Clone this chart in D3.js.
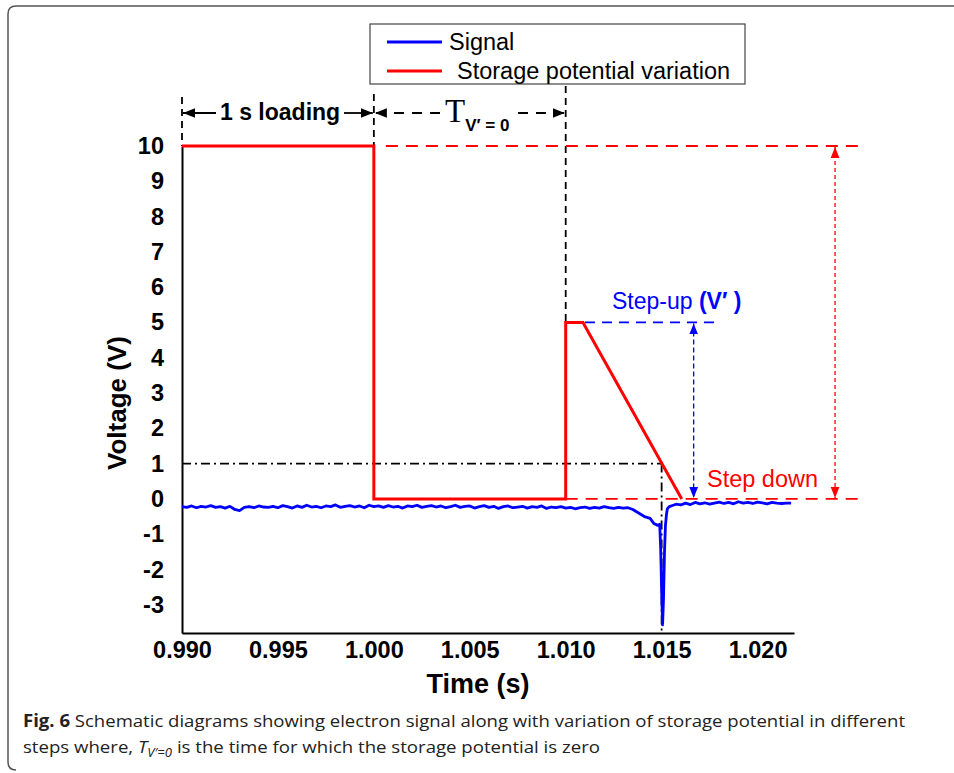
<!DOCTYPE html>
<html>
<head>
<meta charset="utf-8">
<title>Storage potential</title>
<style>
  html, body { margin: 0; padding: 0; background: #fff; }
  svg { display: block; }
  .tick text { font-family: "Liberation Sans", Arial, sans-serif; font-weight: bold; font-size: 23.5px; fill: #000; }
</style>
</head>
<body>
<svg id="svg" width="954" height="773"></svg>
<script src="https://d3js.org/d3.v7.min.js"></script>
<script>
// ---- data ----
const xTicks = [0.990, 0.995, 1.000, 1.005, 1.010, 1.015, 1.020]
const yTicks = [-3, -2, -1, 0, 1, 2, 3, 4, 5, 6, 7, 8, 9, 10]

// storage potential (red)
const storageT = [0.990, 1.000, 1.000, 1.010, 1.010, 1.0109, 1.01605]
const storageV = [10, 10, 0, 0, 5, 5, 0]

// electron signal (blue): baseline sampled every 0.25 ms from 0.990 s
const baseStart = 0.990
const baseStep = 0.00025
const signalBase = [
  -0.22, -0.24, -0.20, -0.25, -0.21, -0.23, -0.19, -0.24, -0.22, -0.26,
  -0.21, -0.30, -0.33, -0.24, -0.22, -0.25, -0.20, -0.23, -0.24, -0.21,
  -0.25, -0.19, -0.22, -0.26, -0.20, -0.24, -0.18, -0.23, -0.21, -0.25,
  -0.20, -0.22, -0.17, -0.24, -0.21, -0.19, -0.23, -0.20, -0.25, -0.18,
  -0.22, -0.20, -0.24, -0.19, -0.23, -0.21, -0.26, -0.20, -0.22, -0.18,
  -0.24, -0.21, -0.19, -0.23, -0.20, -0.25, -0.22, -0.18, -0.24, -0.21,
  -0.20, -0.26, -0.22, -0.19, -0.24, -0.21, -0.27, -0.22, -0.20, -0.25,
  -0.23, -0.21, -0.26, -0.22, -0.24, -0.20, -0.27, -0.23, -0.25, -0.22,
  -0.26, -0.24, -0.28, -0.25, -0.23, -0.27, -0.24, -0.26, -0.22, -0.25,
  -0.27, -0.24, -0.26, -0.25
]
// the dip around 1.015 s
const signalSpike = [
  [1.0135, -0.30], [1.0138, -0.40], [1.0141, -0.50], [1.0144, -0.55],
  [1.0146, -0.70], [1.0148, -0.75], [1.0149, -0.72], [1.01495, -1.4],
  [1.0150, -2.6], [1.01505, -3.57], [1.0151, -2.8], [1.01515, -1.5],
  [1.0152, -0.75], [1.01525, -0.45], [1.0153, -0.28], [1.0154, -0.22],
  [1.0156, -0.18]
]
// after the dip, every 0.25 ms from 1.01575 s
const tailStart = 1.01575
const signalTail = [
  -0.15, -0.17, -0.12, -0.16, -0.10, -0.14, -0.11, -0.15, -0.12, -0.09,
  -0.13, -0.10, -0.14, -0.08, -0.12, -0.10, -0.13, -0.09, -0.11, -0.14,
  -0.10, -0.12, -0.13, -0.12, -0.12
]

const loadEnd = 1.000
const zeroEnd = 1.010
const stepUpV = 5
const crossT = 1.015
const crossV = 1
const arrowUpT = 1.01667
const arrowBigT = 1.02404
const dashEndT = 1.02544

// ---- drawing ----
const svg = d3.select('#svg')
const font = '"Liberation Sans", Arial, sans-serif'

const x = d3.scaleLinear().domain([0.990, 1.0219]).range([182, 794])
const y = d3.scaleLinear().domain([-3.8, 10]).range([633, 146])

// figure frame (open on the right)
svg.append('path')
  .attr('d', 'M954,6 H16 Q8,6 8,14 V762 Q8,770 16,770')
  .attr('fill', 'none')
  .attr('stroke', '#555')
  .attr('stroke-width', 1.5)

const defs = svg.append('defs')
function marker(id, color, size) {
  defs.append('marker')
    .attr('id', id)
    .attr('viewBox', '0 0 10 10')
    .attr('refX', 10).attr('refY', 5)
    .attr('markerWidth', size).attr('markerHeight', size)
    .attr('markerUnits', 'userSpaceOnUse')
    .attr('orient', 'auto-start-reverse')
    .append('path')
    .attr('d', 'M0,1 L10,5 L0,9 Z')
    .attr('fill', color)
}
marker('arBlack', '#000', 12)
marker('arBlue', '#0000ff', 11)
marker('arRed', '#ff0000', 11)

// axes
const leftAxis = d3.axisLeft(y).tickValues(yTicks).tickSize(0).tickPadding(18)
  .tickFormat(d => String(d))
const bottomAxis = d3.axisBottom(x).tickValues(xTicks).tickSize(0).tickPadding(8)
  .tickFormat(d3.format('.3f'))

const gy = svg.append('g').attr('transform', `translate(${x.range()[0]},0)`).call(leftAxis)
const gx = svg.append('g').attr('transform', `translate(0,${y.range()[0]})`).call(bottomAxis)
gy.select('.domain').attr('stroke', '#000').attr('stroke-width', 2)
gx.select('.domain').attr('stroke', '#000').attr('stroke-width', 2)

svg.append('text')
  .attr('transform', `translate(126,403) rotate(-90)`)
  .attr('text-anchor', 'middle')
  .attr('font-family', font).attr('font-weight', 'bold').attr('font-size', 26)
  .text('Voltage (V)')
svg.append('text')
  .attr('x', 478).attr('y', 693)
  .attr('text-anchor', 'middle')
  .attr('font-family', font).attr('font-weight', 'bold').attr('font-size', 27)
  .text('Time (s)')

function seg(x1, y1, x2, y2, color, width, dash) {
  return svg.append('line')
    .attr('x1', x1).attr('y1', y1).attr('x2', x2).attr('y2', y2)
    .attr('stroke', color).attr('stroke-width', width)
    .attr('stroke-dasharray', dash || null)
}

// black guides
seg(x(0.990), 97, x(0.990), y(10), '#000', 1.8, '7,5')
seg(x(loadEnd), 94, x(loadEnd), y(10), '#000', 1.8, '7,5')
seg(x(zeroEnd), 86, x(zeroEnd), y(stepUpV), '#000', 1.8, '7,5')
seg(x(0.990), y(crossV), x(crossT), y(crossV), '#000', 1.8, '9,4,2,4')
seg(x(crossT), y(crossV), x(crossT), y.range()[0], '#000', 1.8, '9,4,2,4')

// "1 s loading" arrows
seg(216, 113, x(0.990) + 1, 113, '#000', 1.8).attr('marker-end', 'url(#arBlack)')
seg(344, 113, x(loadEnd) - 1, 113, '#000', 1.8).attr('marker-end', 'url(#arBlack)')
svg.append('text')
  .attr('x', 220).attr('y', 120)
  .attr('font-family', font).attr('font-weight', 'bold').attr('font-size', 23)
  .text('1 s loading')

// T_{V'=0} arrows
seg(440, 113, x(loadEnd) + 1, 113, '#000', 1.8, '10,8').attr('marker-end', 'url(#arBlack)')
seg(518, 113, x(zeroEnd) - 1, 113, '#000', 1.8, '10,8').attr('marker-end', 'url(#arBlack)')
const tt = svg.append('text').attr('x', 445).attr('y', 122)
tt.append('tspan').attr('font-family', '"Liberation Serif", "Times New Roman", serif')
  .attr('font-size', 33).text('T')
tt.append('tspan').attr('font-family', font).attr('font-weight', 'bold')
  .attr('font-size', 17).attr('dy', 9).text('V\u2032 = 0')

// red reference dashes
seg(x(loadEnd) + 12, y(10), x(dashEndT), y(10), '#ff0000', 1.8, '12,8')
seg(x(zeroEnd), y(0), x(dashEndT), y(0), '#ff0000', 1.8, '12,8')
seg(x(arrowBigT), y(10) + 1, x(arrowBigT), y(0) - 1, '#ff0000', 1.3, '4,3')
  .attr('marker-start', 'url(#arRed)').attr('marker-end', 'url(#arRed)')
svg.append('text')
  .attr('x', 707).attr('y', 487)
  .attr('font-family', font).attr('font-size', 23.5).attr('fill', '#ff0000')
  .text('Step down')

// blue step-up annotation
seg(x(1.0109) + 2, y(stepUpV), 718, y(stepUpV), '#0000ff', 1.8, '10,7')
seg(x(arrowUpT), y(stepUpV) + 1, x(arrowUpT), y(0) - 1, '#0000ff', 1.3, '5,3')
  .attr('marker-start', 'url(#arBlue)').attr('marker-end', 'url(#arBlue)')
const su = svg.append('text').attr('x', 612).attr('y', 309)
  .attr('font-family', font).attr('font-size', 23).attr('fill', '#0000ff')
su.append('tspan').text('Step-up ')
su.append('tspan').attr('font-weight', 'bold').text('(V\u2032 )')

// series
const line = d3.line().x(d => x(d[0])).y(d => y(d[1]))

const signal = signalBase.map((v, i) => [baseStart + i * baseStep, v])
  .concat(signalSpike)
  .concat(signalTail.map((v, i) => [tailStart + i * baseStep, v]))

svg.append('path')
  .datum(signal)
  .attr('d', line)
  .attr('fill', 'none')
  .attr('stroke', '#0000ff')
  .attr('stroke-width', 2.8)
  .attr('stroke-linejoin', 'round')

svg.append('path')
  .datum(storageT.map((t, i) => [t, storageV[i]]))
  .attr('d', line)
  .attr('fill', 'none')
  .attr('stroke', '#ff0000')
  .attr('stroke-width', 3)

// legend
const lg = svg.append('g')
lg.append('rect')
  .attr('x', 370).attr('y', 24).attr('width', 375).attr('height', 60)
  .attr('fill', '#fff').attr('stroke', '#444').attr('stroke-width', 1.2)
const legendItems = [
  { name: 'Signal', color: '#0000ff', ly: 42, tx: 449 },
  { name: 'Storage potential variation', color: '#ff0000', ly: 71, tx: 457 }
]
legendItems.forEach(d => {
  seg(387, d.ly, 442, d.ly, d.color, 3)
  lg.append('text')
    .attr('x', d.tx).attr('y', d.ly + 8)
    .attr('font-family', font).attr('font-size', 23.5)
    .text(d.name)
})

// caption
const capFont = '"Open Sans", "Noto Sans", sans-serif'
const c1 = svg.append('text').attr('x', 23).attr('y', 727)
  .attr('font-family', capFont).attr('font-size', 17).attr('fill', '#222')
  .attr('textLength', 882).attr('lengthAdjust', 'spacingAndGlyphs')
c1.append('tspan').attr('font-weight', 'bold').text('Fig. 6')
c1.append('tspan').text('  Schematic diagrams showing electron signal along with variation of storage potential in different')
const c2 = svg.append('text').attr('x', 23).attr('y', 753)
  .attr('font-family', capFont).attr('font-size', 17).attr('fill', '#222')
  .attr('textLength', 577).attr('lengthAdjust', 'spacingAndGlyphs')
c2.append('tspan').text('steps where, ')
c2.append('tspan').attr('font-style', 'italic').text('T')
c2.append('tspan').attr('font-style', 'italic').attr('font-size', 12).attr('dy', 4).text('V\u2032=0')
c2.append('tspan').attr('dy', -4).text(' is the time for which the storage potential is zero')
</script>
</body>
</html>
